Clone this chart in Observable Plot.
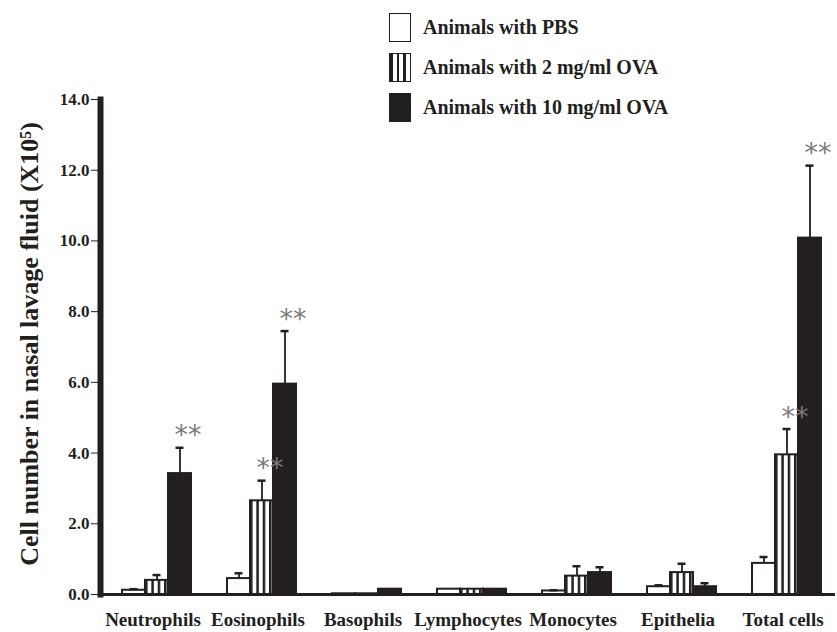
<!DOCTYPE html>
<html><head><meta charset="utf-8">
<script src="https://cdn.jsdelivr.net/npm/d3@7"></script>
<script src="https://cdn.jsdelivr.net/npm/@observablehq/plot@0.6"></script>
<style>
body{margin:0;background:#fff;}
#wrap{position:relative;width:837px;height:632px;font-family:"Liberation Serif","Times New Roman",serif;}
#legend{position:absolute;left:389px;top:13px;}
.row{display:flex;align-items:center;height:29px;margin-bottom:11px;font-weight:bold;font-size:20px;color:#231f20;white-space:nowrap}
.sw{width:22px;height:29px;border:1.5px solid #231f20;margin-right:12px;box-sizing:border-box;flex:none}
</style></head><body>
<div id="wrap"><div id="chart"></div><div id="legend"></div></div>
<script>
const categories = ["Neutrophils","Eosinophils","Basophils","Lymphocytes","Monocytes","Epithelia","Total cells"];
const seriesNames = ["Animals with PBS","Animals with 2 mg/ml OVA","Animals with 10 mg/ml OVA"];
const pbsMean  = [0.12, 0.45, 0.02, 0.15, 0.10, 0.22, 0.88];
const pbsErr   = [0.03, 0.15, 0.00, 0.00, 0.02, 0.04, 0.18];
const ova2Mean = [0.40, 2.65, 0.02, 0.15, 0.52, 0.62, 3.95];
const ova2Err  = [0.15, 0.57, 0.00, 0.00, 0.28, 0.25, 0.73];
const ova10Mean= [3.42, 5.95, 0.15, 0.15, 0.62, 0.22, 10.08];
const ova10Err = [0.73, 1.50, 0.00, 0.00, 0.15, 0.10, 2.05];
const pbsSig   = [false,false,false,false,false,false,false];
const ova2Sig  = [false,true,false,false,false,false,true];
const ova10Sig = [true,true,false,false,false,false,true];
const yTicks = [0,2,4,6,8,10,12,14];
const yLabel = "Cell number in nasal lavage fluid (X10\u2075)";

const means = [pbsMean, ova2Mean, ova10Mean];
const errs = [pbsErr, ova2Err, ova10Err];
const sigs = [pbsSig, ova2Sig, ova10Sig];
const data = [];
categories.forEach((c, i) => seriesNames.forEach((s, j) => {
  data.push({cat: c, series: s, value: means[j][i], err: errs[j][i], sig: sigs[j][i]});
}));
const withErr = data.filter(d => d.err > 0);
const withSig = data.filter(d => d.sig);
const ink = "#231f20";
const font = "Liberation Serif";

const chart = Plot.plot({
  width: 837, height: 632,
  marginTop: 99, marginBottom: 38, marginLeft: 98, marginRight: 0,
  style: {fontFamily: font, background: "white", color: ink},
  fx: {domain: categories, padding: 0, label: null},
  x: {domain: seriesNames, paddingInner: 0, paddingOuter: 0.7, align: 0.6, axis: null},
  y: {domain: [0, 14], axis: null},
  color: {type: "ordinal", domain: seriesNames, range: ["white", "url(#stripes)", ink]},
  marks: [
    Plot.barY(data, {fx: "cat", x: "series", y: "value", fill: "series", stroke: ink, strokeWidth: 2}),
    Plot.ruleX(withErr, {fx: "cat", x: "series", y1: d => d.value, y2: d => d.value + d.err, stroke: ink, strokeWidth: 1.8}),
    Plot.tickY(withErr, {fx: "cat", x: "series", y: d => d.value + d.err, stroke: ink, strokeWidth: 2.5, inset: 7.5}),
    Plot.text(withSig, {fx: "cat", x: "series", y: d => d.value + d.err, text: () => "**", dx: 8, dy: -12, fill: "#7a7a7a", fontSize: 27, fontFamily: "DejaVu Sans"}),
    Plot.ruleY([0], {stroke: ink, strokeWidth: 3}),
    Plot.frame({facet: "super", anchor: "left", stroke: ink, strokeWidth: 6}),
    Plot.axisY({ticks: yTicks, tickFormat: d3.format(".1f"), tickSize: 9, tickPadding: 2, fontSize: 17, fontWeight: "bold", label: null, stroke: ink, fill: ink}),
    Plot.axisFx({anchor: "bottom", label: null, tickSize: 0, tickPadding: 18, fontSize: 19, fontWeight: "bold", fill: ink}),
    Plot.text([yLabel], {facet: "super", frameAnchor: "left", textAnchor: "middle", text: d => d, rotate: -90, dx: -71, dy: -3, fontSize: 26, fontWeight: "bold", fill: ink})
  ]
});
d3.select(chart).insert("defs", ":first-child").html(
  `<pattern id="stripes" patternUnits="objectBoundingBox" patternContentUnits="objectBoundingBox" width="0.276" height="1">
     <rect x="0" y="0" width="0.276" height="1" fill="white"/>
     <rect x="0" y="0" width="0.11" height="1" fill="${ink}"/>
   </pattern>`);
document.getElementById("chart").appendChild(chart);

const legend = document.getElementById("legend");
const swatchStyles = [
  "background:white",
  `background:repeating-linear-gradient(to right, ${ink} 0 2.7px, white 2.7px 6.7px)`,
  `background:${ink}`
];
seriesNames.forEach((s, j) => {
  const row = document.createElement("div");
  row.className = "row";
  const sw = document.createElement("div");
  sw.className = "sw";
  sw.style.cssText = swatchStyles[j];
  row.appendChild(sw);
  const t = document.createElement("span");
  t.textContent = s;
  row.appendChild(t);
  legend.appendChild(row);
});
</script>
</body></html>
